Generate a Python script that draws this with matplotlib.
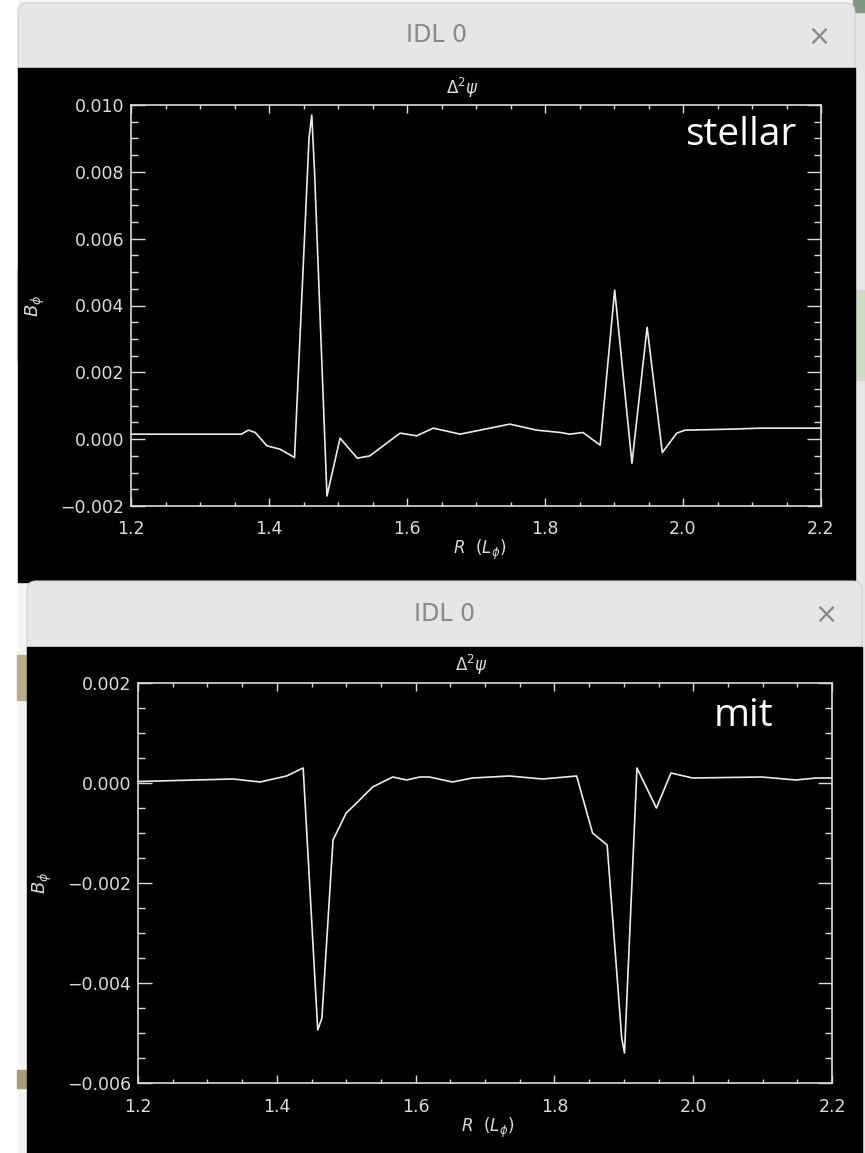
import matplotlib
matplotlib.use("Agg")
import matplotlib.pyplot as plt
from matplotlib.patches import Rectangle, FancyBboxPatch
from matplotlib.ticker import MultipleLocator, FuncFormatter

# ---------------- data ----------------
top_R = [1.20, 1.36, 1.37, 1.38, 1.397, 1.416, 1.437, 1.458, 1.462, 1.466, 1.484,
         1.503, 1.528, 1.546, 1.59, 1.614, 1.638, 1.677, 1.749, 1.788, 1.822,
         1.836, 1.855, 1.88, 1.901, 1.926, 1.948, 1.97, 1.991, 2.003, 2.071,
         2.112, 2.2]
top_B = [0.00015, 0.00015, 0.00027, 0.0002, -0.0002, -0.0003, -0.00055, 0.0090,
         0.0097, 0.0080, -0.0017, 0.00003, -0.00057, -0.0005, 0.00018, 0.0001,
         0.00033, 0.00015, 0.00045, 0.00027, 0.0002, 0.00015, 0.0002, -0.00018,
         0.00446, -0.00072, 0.00335, -0.0004, 0.00018, 0.00027, 0.0003, 0.00033,
         0.00033]

bot_R = [1.20, 1.337, 1.376, 1.414, 1.438, 1.459, 1.465, 1.481, 1.50, 1.515,
         1.538, 1.567, 1.587, 1.606, 1.62, 1.653, 1.682, 1.735, 1.783, 1.832,
         1.855, 1.876, 1.897, 1.901, 1.919, 1.947, 1.968, 1.999, 2.099, 2.148,
         2.177, 2.2]
bot_B = [0.00003, 0.00008, 0.00002, 0.00014, 0.0003, -0.00494, -0.0047, -0.00114,
         -0.0006, -0.0004, -0.00008, 0.00012, 0.00006, 0.00012, 0.00012, 0.00002,
         0.0001, 0.00014, 0.00008, 0.00014, -0.001, -0.00124, -0.0051, -0.0054,
         0.0003, -0.0005, 0.0002, 0.0001, 0.00012, 0.00006, 0.0001, 0.0001]

window_title = "IDL 0"
plot_title = r"$\Delta^{2}\psi$"
x_label = r"$R\ \ (L_{\phi})$"
y_label = r"$B_{\phi}$"
top_tag = "stellar"
bot_tag = "mit"
top_ylim = (-0.002, 0.010)
bot_ylim = (-0.006, 0.002)
xlim = (1.2, 2.2)

W, H = 865, 1153
fig = plt.figure(figsize=(W / 100, H / 100), dpi=100)
fig.patch.set_facecolor("white")

# background axes in pixel coordinates
bg = fig.add_axes([0, 0, 1, 1], zorder=0)
bg.set_xlim(0, W)
bg.set_ylim(H, 0)
bg.axis("off")

bg.add_patch(Rectangle((0, 0), W, H, color="#f4f4f4"))
bg.add_patch(Rectangle((0, 0), 17, H, color="#ffffff"))
for y0, h, c in [(655, 45, "#b8ad8a"), (1070, 18, "#a89c78"), (270, 90, "#d8d3c0")]:
    bg.add_patch(Rectangle((17, y0), 10, h, color=c))
bg.add_patch(Rectangle((853, 0), 12, H, color="#e6e6e6"))
bg.add_patch(Rectangle((853, 290), 12, 90, color="#cddbc6"))
bg.add_patch(Rectangle((853, 0), 12, 12, color="#7e9a80"))


def window(x0, x1, y0, ybar, y1):
    bg.add_patch(FancyBboxPatch((x0, y0), x1 - x0, (ybar - y0) + 10,
                                boxstyle="round,pad=0,rounding_size=9",
                                fc="#e7e6e5", ec="#cfcfcf", lw=0.8))
    bg.add_patch(Rectangle((x0, ybar), x1 - x0, y1 - ybar, color="black"))
    bg.text((x0 + x1) / 2, (y0 + ybar) / 2, window_title, ha="center", va="center",
            fontsize=17, color="#8a8a8a", family="DejaVu Sans")
    bg.text(x1 - 36, (y0 + ybar) / 2 + 1, "\u00d7", ha="center", va="center",
            fontsize=20, color="#8a8a8a", family="DejaVu Sans")


window(18, 855, 3, 68, 582)
window(27, 862, 581, 647, H + 5)

fg = "#dcdcdc"


def yfmt(v, pos):
    s = "%.3f" % abs(v)
    return ("\u2212" + s) if v < -1e-12 else s


def panel(rect, R, B, ylim, major_y, tag, tag_xy, xlabel_xy, title_y, ylabel_x, xpad):
    ax = fig.add_axes(rect, zorder=2)
    ax.set_facecolor("black")
    ax.plot(R, B, color="#ececec", lw=1.2)
    ax.set_xlim(*xlim)
    ax.set_ylim(*ylim)
    ax.xaxis.set_major_locator(MultipleLocator(0.2))
    ax.xaxis.set_minor_locator(MultipleLocator(0.05))
    ax.yaxis.set_major_locator(MultipleLocator(major_y))
    ax.yaxis.set_minor_locator(MultipleLocator(major_y / 4))
    ax.xaxis.set_major_formatter(FuncFormatter(lambda v, p: "%.1f" % v))
    ax.yaxis.set_major_formatter(FuncFormatter(yfmt))
    for s in ax.spines.values():
        s.set_color(fg)
        s.set_linewidth(1.2)
    ax.tick_params(axis="both", which="both", direction="in", colors=fg,
                   top=True, right=True, width=1.0, labelsize=12.5,
                   labelcolor=fg)
    ax.tick_params(axis="x", which="major", length=6, pad=xpad)
    ax.tick_params(axis="x", which="minor", length=3)
    ax.tick_params(axis="y", which="major", length=10, pad=5)
    ax.tick_params(axis="y", which="minor", length=5)
    fig.text(rect[0] + rect[2] * 0.48, 1 - title_y / H, plot_title, ha="center",
             va="center", fontsize=12, color=fg)
    fig.text(xlabel_xy[0] / W, 1 - xlabel_xy[1] / H, x_label,
             ha="center", va="center", fontsize=12, color=fg)
    fig.text(ylabel_x / W, rect[1] + rect[3] * 0.5, y_label, ha="center",
             va="center", rotation=90, fontsize=13, color=fg)
    fig.text(tag_xy[0] / W, 1 - tag_xy[1] / H, tag, ha="center", va="center",
             fontsize=28, color="white", family="Open Sans")
    return ax


top_rect = [131 / W, 1 - 506 / H, 690 / W, 401 / H]
bot_rect = [138 / W, 1 - 1083 / H, 694 / W, 400 / H]
panel(top_rect, top_R, top_B, top_ylim, 0.002, top_tag, (741, 135), (480, 550), 88, 35, 10)
panel(bot_rect, bot_R, bot_B, bot_ylim, 0.002, bot_tag, (743, 716), (488, 1128), 665, 42, 11)

fig.savefig("out.png", dpi=100, facecolor=fig.get_facecolor())
